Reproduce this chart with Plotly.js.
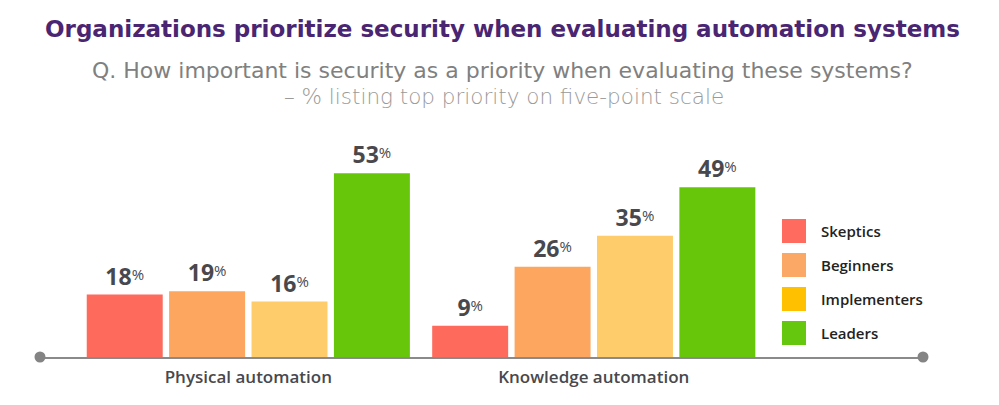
<!DOCTYPE html>
<html>
<head>
<meta charset="utf-8">
<script src="https://cdn.plot.ly/plotly-3.0.1.min.js"></script>
<style>html,body{margin:0;padding:0;background:#fff;}#chart{width:999px;height:405px;}</style>
</head>
<body>
<div id="chart"></div>
<script>
// ---- data ----
const categories = ['Physical automation', 'Knowledge automation'];
const seriesNames = ['Skeptics', 'Beginners', 'Implementers', 'Leaders'];
const skeptics = [18, 9];
const beginners = [19, 26];
const implementers = [16, 35];
const leaders = [53, 49];
const barColors = ['#FE6A5B', '#FCA65F', '#FECC6B', '#67C60A'];
const legendColors = ['#FF6B5E', '#FBA766', '#FFC000', '#66C80E'];
const titleText = 'Organizations prioritize security when evaluating automation systems';
const subtitle1 = 'Q. How important is security as a priority when evaluating these systems?';
const subtitle2 = '– % listing top priority on five-point scale';

// ---- geometry helpers (layout only) ----
const W = 999, H = 405;
const M = {l: 40, r: 76, t: 149, b: 48};
const plotW = W - M.l - M.r, plotH = H - M.t - M.b;
const px2x = px => (px - M.l) / plotW;
const py2y = py => (H - M.b - py) / plotH;

const seriesValues = [skeptics, beginners, implementers, leaders];
const FONT = 'Open Sans, Noto Sans, sans-serif';
const WIDE = 'DejaVu Sans, Verdana, sans-serif';

const traces = seriesValues.map((vals, i) => ({
  type: 'bar',
  name: seriesNames[i],
  x: categories,
  y: vals,
  marker: {color: barColors[i], line: {width: 0}},
  text: vals.map(v => '<b>' + v + '</b><span style="font-size:15px;font-weight:400;baseline-shift:5px">%</span>'),
  textposition: 'outside',
  cliponaxis: false,
  textfont: {family: FONT, size: 23, color: '#48484D'},
  showlegend: false,
  hoverinfo: 'x+y+name'
}));

const shapes = [
  {type: 'circle', xref: 'paper', yref: 'paper', xsizemode: 'pixel', ysizemode: 'pixel',
   xanchor: 0, yanchor: 0, x0: -5.5, x1: 5.5, y0: -5.5, y1: 5.5,
   fillcolor: '#848484', line: {width: 0}, layer: 'above'},
  {type: 'circle', xref: 'paper', yref: 'paper', xsizemode: 'pixel', ysizemode: 'pixel',
   xanchor: 1, yanchor: 0, x0: -5.5, x1: 5.5, y0: -5.5, y1: 5.5,
   fillcolor: '#848484', line: {width: 0}, layer: 'above'}
];
const annotations = [
  {text: subtitle1, xref: 'paper', yref: 'paper', x: px2x(502), y: py2y(70),
   xanchor: 'center', yanchor: 'middle', showarrow: false,
   font: {family: WIDE, size: 22, color: '#808080', weight: 400}},
  {text: subtitle2, xref: 'paper', yref: 'paper', x: px2x(504), y: py2y(96),
   xanchor: 'center', yanchor: 'middle', showarrow: false,
   font: {family: WIDE, size: 21.5, color: '#9A9A9A', weight: 300}}
];
seriesNames.forEach((name, i) => {
  const cy = 231 + i * 34;
  shapes.push({type: 'rect', xref: 'paper', yref: 'paper',
    x0: px2x(782), x1: px2x(806), y0: py2y(cy + 12), y1: py2y(cy - 12),
    fillcolor: legendColors[i], line: {width: 0}});
  annotations.push({text: name, xref: 'paper', yref: 'paper', x: px2x(819), y: py2y(cy),
    xanchor: 'left', yanchor: 'middle', showarrow: false,
    font: {family: FONT, size: 15, color: '#222222', weight: 600}});
});

const layout = {
  width: W, height: H, autosize: false,
  margin: M,
  paper_bgcolor: '#ffffff', plot_bgcolor: '#ffffff',
  barmode: 'group', bargap: 0.046, bargroupgap: 0.078,
  title: {text: titleText, xref: 'container', x: 0.503, xanchor: 'center',
          yref: 'container', y: 1 - 29 / H, yanchor: 'middle',
          font: {family: WIDE, size: 23, color: '#4A2572', weight: 700}},
  xaxis: {type: 'category', range: [-0.603, 1.953], showline: true, linecolor: '#8A8A8A',
          linewidth: 2, ticks: '', showgrid: false, zeroline: false,
          tickfont: {family: FONT, size: 17, color: '#48484D', weight: 600},
          ticklabelstandoff: 4, fixedrange: true},
  yaxis: {range: [0, 60], visible: false, showgrid: false, zeroline: false, fixedrange: true},
  shapes: shapes,
  annotations: annotations,
  showlegend: false
};

Plotly.newPlot('chart', traces, layout, {displayModeBar: false, staticPlot: true});
</script>
</body>
</html>
